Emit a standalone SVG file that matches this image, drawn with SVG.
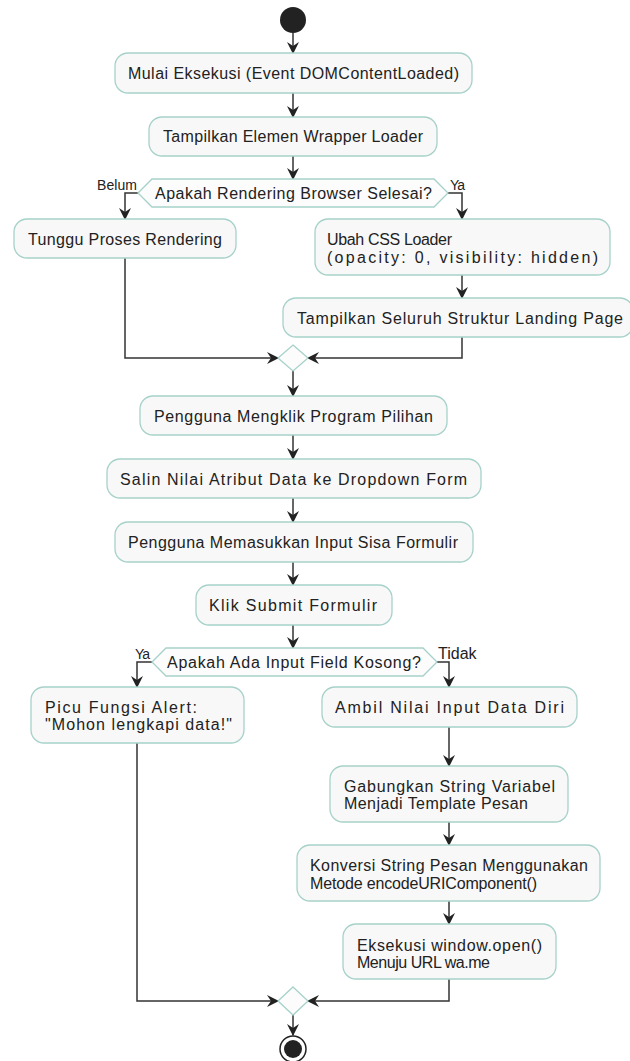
<svg xmlns="http://www.w3.org/2000/svg" width="630" height="1061" viewBox="0 0 630 1061">
<defs>
<style>
.box{fill:#f8f8f8;stroke:#a6d1c9;stroke-width:1.3}
.dec{fill:#fcfcfc;stroke:#a6d1c9;stroke-width:1.3}
.t{font-family:"Liberation Sans",Arial,sans-serif;font-size:16px;fill:#222}
.s{font-family:"Liberation Sans",Arial,sans-serif;font-size:14px;fill:#222}
.c{fill:none;stroke:#333;stroke-width:1.5}
</style>
<marker id="ah" markerWidth="12" markerHeight="12" viewBox="0 0 12 12" refX="11" refY="6" orient="auto" markerUnits="userSpaceOnUse">
<path d="M0,0 L12,6 L0,12 L4,6 Z" fill="#222"/>
</marker>
</defs>
<rect width="630" height="1061" fill="#ffffff"/>

<g id="connectors">
<path class="c" d="M293,33 V53" marker-end="url(#ah)"/>
<path class="c" d="M293,93 V117" marker-end="url(#ah)"/>
<path class="c" d="M293,156 V179" marker-end="url(#ah)"/>
<path class="c" d="M138,193 H125 V219" marker-end="url(#ah)"/>
<path class="c" d="M448,193 H462 V219" marker-end="url(#ah)"/>
<path class="c" d="M462,275 V298" marker-end="url(#ah)"/>
<path class="c" d="M125,258 V358 H278" marker-end="url(#ah)"/>
<path class="c" d="M462,337 V358 H308" marker-end="url(#ah)"/>
<path class="c" d="M293,371 V396" marker-end="url(#ah)"/>
<path class="c" d="M293,435 V459" marker-end="url(#ah)"/>
<path class="c" d="M293,498 V522" marker-end="url(#ah)"/>
<path class="c" d="M293,562 V585" marker-end="url(#ah)"/>
<path class="c" d="M293,625 V648" marker-end="url(#ah)"/>
<path class="c" d="M152,662 H137 V687" marker-end="url(#ah)"/>
<path class="c" d="M437,662 H449 V687" marker-end="url(#ah)"/>
<path class="c" d="M449,727 V766" marker-end="url(#ah)"/>
<path class="c" d="M449,822 V845" marker-end="url(#ah)"/>
<path class="c" d="M449,901 V924" marker-end="url(#ah)"/>
<path class="c" d="M137,743 V1001 H278" marker-end="url(#ah)"/>
<path class="c" d="M449,979 V1001 H308" marker-end="url(#ah)"/>
<path class="c" d="M293,1015 V1035" marker-end="url(#ah)"/>
<text class="s" x="97" y="190" textLength="40" lengthAdjust="spacing">Belum</text>
<text class="s" x="450" y="190" textLength="15" lengthAdjust="spacing">Ya</text>
<text class="s" x="135" y="659" textLength="15" lengthAdjust="spacing">Ya</text>
<text class="t" x="438" y="659">Tidak</text>
</g>

<g id="start"><circle cx="293" cy="20" r="13" fill="#222"/></g>

<g id="n1">
<rect class="box" x="115" y="53" width="357" height="40" rx="13"/>
<text class="t" x="128" y="79" textLength="331" lengthAdjust="spacing">Mulai Eksekusi (Event DOMContentLoaded)</text>
</g>
<g id="n2">
<rect class="box" x="149" y="117" width="288" height="39" rx="13"/>
<text class="t" x="163" y="142" textLength="260" lengthAdjust="spacing">Tampilkan Elemen Wrapper Loader</text>
</g>
<g id="d1">
<polygon class="dec" points="138,193 152,179 434,179 448,193 434,207 152,207"/>
<text class="t" x="155" y="199" textLength="277" lengthAdjust="spacing">Apakah Rendering Browser Selesai?</text>
</g>
<g id="n3">
<rect class="box" x="14" y="219" width="222" height="39" rx="13"/>
<text class="t" x="28" y="245" textLength="194" lengthAdjust="spacing">Tunggu Proses Rendering</text>
</g>
<g id="n4">
<rect class="box" x="315" y="219" width="295" height="56" rx="13"/>
<text class="t" x="327" y="245" textLength="125" lengthAdjust="spacing">Ubah CSS Loader</text>
<text class="t" x="327" y="263" textLength="271" lengthAdjust="spacing">(opacity: 0, visibility: hidden)</text>
</g>
<g id="n5">
<rect class="box" x="283" y="298" width="350" height="39" rx="13"/>
<text class="t" x="297" y="324" textLength="326" lengthAdjust="spacing">Tampilkan Seluruh Struktur Landing Page</text>
</g>
<g id="m1"><polygon class="dec" points="293,345 308,358 293,371 278,358"/></g>
<g id="n6">
<rect class="box" x="140" y="396" width="307" height="39" rx="13"/>
<text class="t" x="154" y="422" textLength="279" lengthAdjust="spacing">Pengguna Mengklik Program Pilihan</text>
</g>
<g id="n7">
<rect class="box" x="107" y="459" width="374" height="39" rx="13"/>
<text class="t" x="120" y="485" textLength="347" lengthAdjust="spacing">Salin Nilai Atribut Data ke Dropdown Form</text>
</g>
<g id="n8">
<rect class="box" x="115" y="522" width="358" height="40" rx="13"/>
<text class="t" x="128" y="548" textLength="330" lengthAdjust="spacing">Pengguna Memasukkan Input Sisa Formulir</text>
</g>
<g id="n9">
<rect class="box" x="196" y="585" width="196" height="40" rx="13"/>
<text class="t" x="209" y="611" textLength="168" lengthAdjust="spacing">Klik Submit Formulir</text>
</g>
<g id="d2">
<polygon class="dec" points="152,662 166,648 423,648 437,662 423,676 166,676"/>
<text class="t" x="167" y="668" textLength="254" lengthAdjust="spacing">Apakah Ada Input Field Kosong?</text>
</g>
<g id="n10">
<rect class="box" x="31" y="687" width="213" height="56" rx="13"/>
<text class="t" x="45" y="713" textLength="152" lengthAdjust="spacing">Picu Fungsi Alert:</text>
<text class="t" x="45" y="730" textLength="187" lengthAdjust="spacing">"Mohon lengkapi data!"</text>
</g>
<g id="n11">
<rect class="box" x="322" y="687" width="255" height="40" rx="13"/>
<text class="t" x="335" y="713" textLength="229" lengthAdjust="spacing">Ambil Nilai Input Data Diri</text>
</g>
<g id="n12">
<rect class="box" x="330" y="766" width="238" height="56" rx="13"/>
<text class="t" x="344" y="792" textLength="211" lengthAdjust="spacing">Gabungkan String Variabel</text>
<text class="t" x="344" y="809" textLength="184" lengthAdjust="spacing">Menjadi Template Pesan</text>
</g>
<g id="n13">
<rect class="box" x="297" y="845" width="303" height="56" rx="13"/>
<text class="t" x="310" y="871" textLength="278" lengthAdjust="spacing">Konversi String Pesan Menggunakan</text>
<text class="t" x="310" y="889" textLength="227" lengthAdjust="spacing">Metode encodeURIComponent()</text>
</g>
<g id="n14">
<rect class="box" x="343" y="924" width="213" height="55" rx="13"/>
<text class="t" x="357" y="951" textLength="185" lengthAdjust="spacing">Eksekusi window.open()</text>
<text class="t" x="357" y="968" textLength="133" lengthAdjust="spacing">Menuju URL wa.me</text>
</g>
<g id="m2"><polygon class="dec" points="293,987 308,1001 293,1015 278,1001"/></g>
<g id="end">
<circle cx="293" cy="1049" r="13" fill="#fff" stroke="#222" stroke-width="1.5"/>
<circle cx="293" cy="1049" r="9" fill="#222"/>
</g>
</svg>
